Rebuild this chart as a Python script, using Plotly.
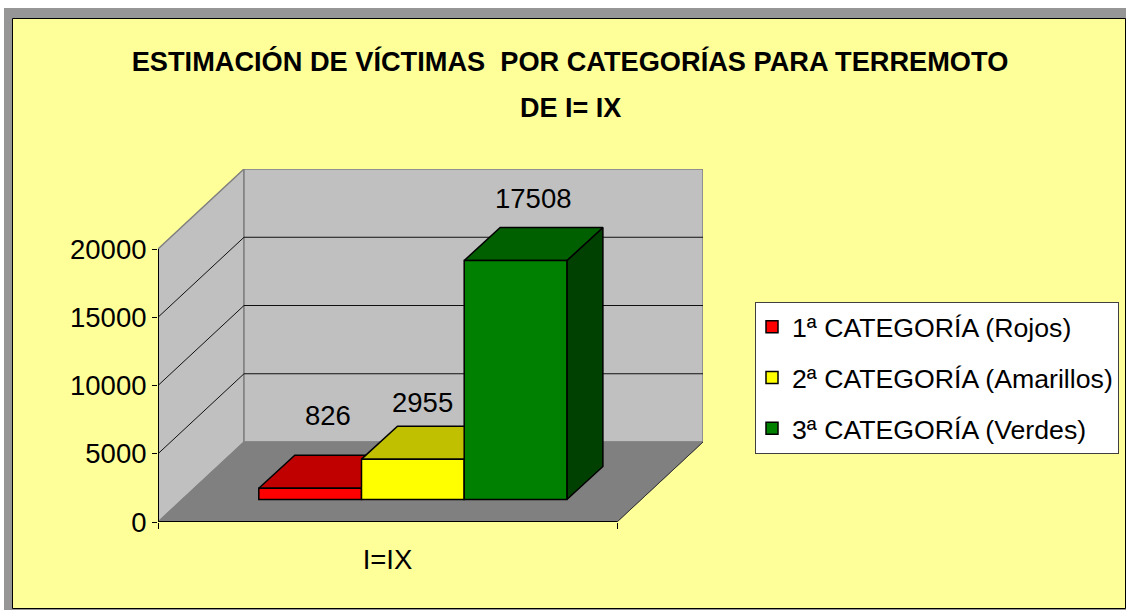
import plotly.graph_objects as go

# ---- data ----
categories = ["1ª CATEGORÍA (Rojos)", "2ª CATEGORÍA (Amarillos)", "3ª CATEGORÍA (Verdes)"]
values = [826, 2955, 17508]
x_label = "I=IX"
y_ticks = [0, 5000, 10000, 15000, 20000]

# ---- styles ----
front = ["#FF0000", "#FFFF00", "#008000"]
top = ["#C00000", "#C0C000", "#006000"]
side = ["#800000", "#808000", "#004000"]
FONT = "Liberation Sans"
W, H = 1126, 610
L, R, T, B = 158, 703, 169, 522     # plot box in pixels
FRONT_W = 459                        # px per x-unit (front plane)
PX_Y = 273 / 20000                   # px per value unit
xmax = (R - L) / FRONT_W
ymax = (B - T) / PX_Y
wall_dx = 86 / FRONT_W
wall_dy = 80 / PX_Y
bar_dx = 36 / FRONT_W
bar_dy = 33 / PX_Y
bar_w = 102.7 / FRONT_W
bar_x0 = 100.8 / FRONT_W
bar_base = 22.5 / PX_Y
ymaxt = y_ticks[-1]


def px(x):
    return (x - L) / (R - L)


def py(y):
    return (B - y) / (B - T)


fig = go.Figure()


def poly(xs, ys, fill, line="#000000", lw=1.5):
    fig.add_trace(go.Scatter(x=xs, y=ys, mode="lines", fill="toself", fillcolor=fill,
                             line=dict(color=line, width=lw), hoverinfo="skip",
                             showlegend=False))


def seg(xs, ys, color="#000000", lw=1):
    fig.add_trace(go.Scatter(x=xs, y=ys, mode="lines", line=dict(color=color, width=lw),
                             hoverinfo="skip", showlegend=False))


# walls and floor
poly([0, wall_dx, wall_dx, 0, 0], [0, wall_dy, wall_dy + ymaxt, ymaxt, 0], "#C0C0C0", "#808080", 1.5)
poly([wall_dx, 1 + wall_dx, 1 + wall_dx, wall_dx, wall_dx],
     [wall_dy, wall_dy, wall_dy + ymaxt, wall_dy + ymaxt, wall_dy], "#C0C0C0", "#808080", 1.5)
poly([0, 1, 1 + wall_dx, wall_dx, 0], [0, 0, wall_dy, wall_dy, 0], "#808080", "#808080", 1)

# gridlines
for t in y_ticks[1:-1]:
    seg([0, wall_dx, 1 + wall_dx], [t, t + wall_dy, t + wall_dy], "#101010", 1)

# axis lines (half of the width falls outside the clip, leaving 1 px)
seg([0, 0], [0, ymaxt], "#000000", 2)
seg([0, 1], [0, 0], "#000000", 2)
seg([1, 1 + wall_dx], [0, wall_dy], "#303030", 1)

# top and side faces (back layer)
x_left = [bar_x0 + i * bar_w for i in range(3)]
for i, v in enumerate(values):
    x0, x1 = x_left[i], x_left[i] + bar_w
    yb = bar_base
    yt = bar_base + v
    poly([x1, x1 + bar_dx, x1 + bar_dx, x1, x1], [yb, yb + bar_dy, yt + bar_dy, yt, yb], side[i])
    poly([x0, x0 + bar_dx, x1 + bar_dx, x1, x0], [yt, yt + bar_dy, yt + bar_dy, yt, yt], top[i])

# front faces: real bars on an overlaid pair of axes, so they cover the back layer
for i, v in enumerate(values):
    fig.add_trace(go.Bar(x=[x_left[i] + bar_w / 2], y=[v], base=[bar_base], width=[bar_w],
                         name=categories[i], legendgroup=categories[i],
                         marker=dict(color=front[i], line=dict(color="#000000", width=1.5)),
                         xaxis="x2", yaxis="y2", hovertemplate="%{y}<extra></extra>"))

# value labels
label_shift = [(18, 73), (10, 57), (17, 62)]
for i, v in enumerate(values):
    fig.add_annotation(x=x_left[i] + bar_w / 2, y=bar_base + v, xref="x", yref="y",
                       text=str(v), showarrow=False, xshift=label_shift[i][0], yshift=label_shift[i][1],
                       font=dict(family=FONT, size=27.5, color="#000000"))

shapes = [
    dict(type="rect", xref="paper", yref="paper", layer="below",
         x0=px(4), x1=px(W), y0=py(H), y1=py(8), fillcolor="#969696", line_width=0),
    dict(type="rect", xref="paper", yref="paper", layer="below",
         x0=px(12.5), x1=px(1125.5), y0=py(608.5), y1=py(18.5), fillcolor="#FFFF99",
         line=dict(color="#000000", width=1)),
]

fig.add_annotation(xref="paper", yref="paper", x=px(570), y=py(108), xanchor="center", yanchor="middle",
                   text="DE I= IX", showarrow=False,
                   font=dict(family=FONT, size=27, color="#000000", weight="bold"))

tick_font = dict(family=FONT, size=27.5, color="#000000")
fig.update_layout(
    width=W, height=H, autosize=False,
    margin=dict(l=L, r=W - R, t=T, b=H - B, pad=0, autoexpand=False),
    paper_bgcolor="#FFFFFF", plot_bgcolor="rgba(0,0,0,0)",
    barmode="overlay", shapes=shapes,
    font=dict(family=FONT, color="#000000"),
    title=dict(text="ESTIMACIÓN DE VÍCTIMAS  POR CATEGORÍAS PARA TERREMOTO",
               x=570 / W, xanchor="center", y=1 - 61 / H, yanchor="middle",
               font=dict(family=FONT, size=27.2, color="#000000", weight="bold")),
    xaxis=dict(range=[0, xmax], showgrid=False, zeroline=False, showline=False,
               tickmode="array", tickvals=[0, 1], ticktext=["", ""], ticks="outside", ticklen=6,
               tickcolor="#000000", tickwidth=1, tickfont=tick_font),
    yaxis=dict(range=[0, ymax], showgrid=False, zeroline=False, showline=False,
               tickmode="array", tickvals=y_ticks, ticktext=[str(t) for t in y_ticks],
               ticks="outside", ticklen=5, tickcolor="#000000",
               tickwidth=1, tickfont=tick_font),
    xaxis2=dict(range=[0, xmax], overlaying="x", anchor="y2", side="bottom",
                showgrid=False, zeroline=False, showline=False, ticks="",
                tickmode="array", tickvals=[0.5], ticktext=[x_label], ticklabelstandoff=18,
                tickfont=tick_font),
    yaxis2=dict(range=[0, ymax], overlaying="y", visible=False),
    legend=dict(x=(755 - L) / (R - L), xanchor="left", y=(B - 302) / (B - T), yanchor="top",
                bgcolor="#FFFFFF", bordercolor="#404040", borderwidth=1,
                font=dict(family=FONT, size=26.7, color="#000000"),
                tracegroupgap=13, traceorder="grouped", indentation=-4),
)

fig.write_html("out.html", config=dict(displayModeBar=False),
               post_script="document.body.style.margin='0';")
